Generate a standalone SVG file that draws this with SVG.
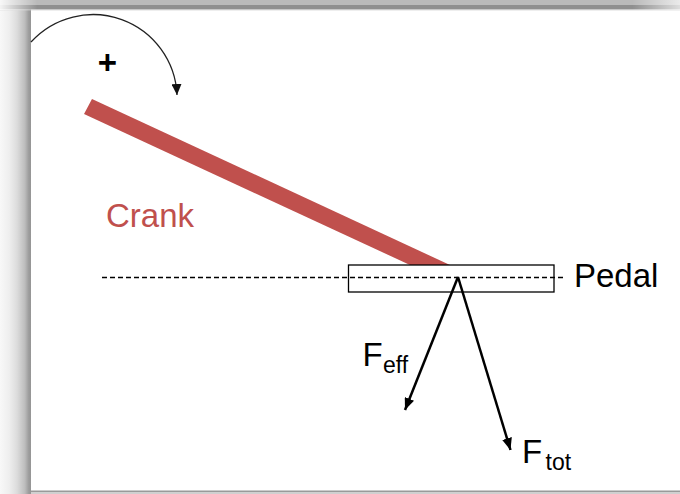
<svg xmlns="http://www.w3.org/2000/svg" width="680" height="494" viewBox="0 0 680 494">
<defs>
<linearGradient id="leftg" x1="0" y1="0" x2="31" y2="0" gradientUnits="userSpaceOnUse">
<stop offset="0" stop-color="#f8f8f8"/>
<stop offset="0.3" stop-color="#eeeeee"/>
<stop offset="0.55" stop-color="#dcdcdc"/>
<stop offset="0.8" stop-color="#bdbdbd"/>
<stop offset="0.93" stop-color="#9c9c9c"/>
<stop offset="1" stop-color="#959595"/>
</linearGradient>
<linearGradient id="topfade" x1="0" y1="0" x2="680" y2="0" gradientUnits="userSpaceOnUse">
<stop offset="0" stop-color="#ffffff" stop-opacity="0.9"/>
<stop offset="0.055" stop-color="#ffffff" stop-opacity="0"/>
<stop offset="0.93" stop-color="#ffffff" stop-opacity="0"/>
<stop offset="1" stop-color="#ffffff" stop-opacity="0.7"/>
</linearGradient>
<marker id="ah" markerWidth="12" markerHeight="10" refX="12" refY="5" orient="auto" markerUnits="userSpaceOnUse">
<path d="M0,0 L12,5 L0,10 Z" fill="#000"/>
</marker>
<marker id="ahs" markerWidth="11" markerHeight="10" refX="11" refY="5" orient="auto" markerUnits="userSpaceOnUse">
<path d="M0,0 L11,5 L0,10 Z" fill="#111"/>
</marker>
</defs>
<style>
.lbl{font-family:"Liberation Sans",Arial,sans-serif;font-size:33px;fill:#000}
.sub{font-size:23px}
.force{stroke:#000;stroke-width:2.5;fill:none;marker-end:url(#ah)}
</style>
<rect x="0" y="0" width="680" height="494" fill="#fff"/>
<g id="frame">
<rect x="0" y="0" width="31" height="494" fill="url(#leftg)"/>
<rect x="0" y="0" width="680" height="5" fill="#bababa"/>
<rect x="0" y="5" width="680" height="4.5" fill="#8f8f8f"/>
<rect x="0" y="9.5" width="680" height="0.8" fill="#c8c8c8"/>
<rect x="0" y="0" width="680" height="10.3" fill="url(#topfade)"/>
<rect x="31" y="490.5" width="649" height="1.5" fill="#9a9a9a"/>
<rect x="31" y="492" width="649" height="2" fill="#d0d0d0"/>
</g>
<g id="crank">
<polygon points="92,99 84,114 410,265 450,265" fill="#C0504D"/>
<text x="106" y="227" class="lbl" style="fill:#C0504D">Crank</text>
</g>
<g id="rotation">
<path d="M31,42 A84,84 0 0 1 177,95" fill="none" stroke="#222" stroke-width="1.3" marker-end="url(#ahs)"/>
<text x="107.5" y="74" class="lbl" font-weight="bold" text-anchor="middle">+</text>
</g>
<g id="pedal">
<rect x="348.5" y="265" width="205.5" height="27" fill="none" stroke="#000" stroke-width="1.3"/>
<text x="574" y="287" class="lbl">Pedal</text>
</g>
<g id="connectors">
<line x1="102" y1="277.5" x2="565" y2="277.5" stroke="#000" stroke-width="1.4" stroke-dasharray="5 3"/>
<line x1="458" y1="277" x2="405" y2="410" class="force"/>
<line x1="458" y1="277" x2="510.5" y2="450" class="force"/>
</g>
<g id="feff">
<text x="362.5" y="366" class="lbl">F<tspan class="sub" x="383" dy="7">eff</tspan></text>
</g>
<g id="ftot">
<text x="522" y="463" class="lbl">F<tspan class="sub" x="545.5" dy="7">tot</tspan></text>
</g>
</svg>
